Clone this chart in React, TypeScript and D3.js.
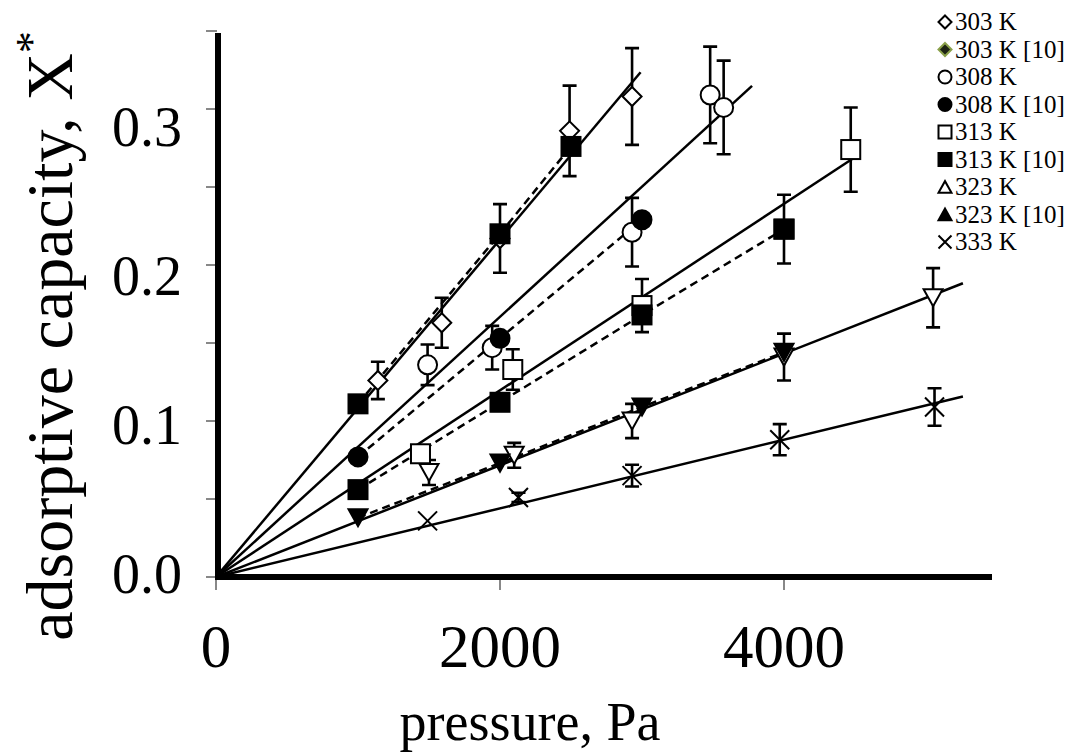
import React from 'react';
import * as d3 from 'd3';

// ---------- data ----------
const xTickValues = [0, 2000, 4000];
const yTickMarks = [0, 0.05, 0.1, 0.15, 0.2, 0.25, 0.3, 0.35];
const yTickLabels = [0.0, 0.1, 0.2, 0.3];

// 303 K (open diamond)
const p303 = [1140, 1590, 2000, 2490, 2930];
const x303 = [0.126, 0.163, 0.217, 0.286, 0.308];
const e303 = [0.012, 0.016, 0.022, 0.029, 0.031];
// 303 K [10] (drawn as filled squares in the plot)
const p303r = [1000, 2000, 2500];
const x303r = [0.111, 0.22, 0.276];
// 308 K (open circle)
const p308 = [1490, 1945, 2930, 3480, 3575];
const x308 = [0.136, 0.147, 0.221, 0.309, 0.301];
const e308 = [0.013, 0.014, 0.022, 0.031, 0.03];
// 308 K [10] (filled circle)
const p308r = [1000, 2000, 3000];
const x308r = [0.077, 0.153, 0.229];
// 313 K (open square)
const p313 = [1440, 2090, 3000, 4000, 4470];
const x313 = [0.079, 0.133, 0.174, 0.223, 0.274];
const e313 = [0.005, 0.013, 0.017, 0.022, 0.027];
// 313 K [10] (filled square)
const p313r = [1000, 2000, 3000, 4000];
const x313r = [0.056, 0.112, 0.168, 0.223];
// 323 K (open down-triangle)
const p323 = [1500, 2100, 2930, 4000, 5050];
const x323 = [0.067, 0.078, 0.1, 0.141, 0.179];
const e323 = [0.008, 0.008, 0.011, 0.015, 0.019];
// 323 K [10] (filled down-triangle)
const p323r = [1000, 2000, 3000, 4000];
const x323r = [0.038, 0.073, 0.109, 0.144];
// 333 K (cross)
const p333 = [1490, 2130, 2930, 3970, 5060];
const x333 = [0.036, 0.051, 0.065, 0.088, 0.109];
const e333 = [0, 0.003, 0.007, 0.01, 0.012];

// linear fits through origin
const fitSlopes = [1.082e-4, 8.34e-5, 5.98e-5, 3.58e-5, 2.2e-5];
const fitEnds = [2990, 3775, 4480, 5260, 5260];

const legendLabels = ['303 K', '303 K [10]', '308 K', '308 K [10]', '313 K', '313 K [10]', '323 K', '323 K [10]', '333 K'];
const legendShapes = ['diamond', 'diamondG', 'circle', 'circleF', 'square', 'squareF', 'triUp', 'triUpF', 'cross'];

// ---------- layout ----------
const W = 1077, H = 755;
const FONT = '"Liberation Serif", "Times New Roman", serif';

const x = d3.scaleLinear().domain([0, 5500]).range([216, 997]);
const y = d3.scaleLinear().domain([0, 0.35]).range([577, 31]);
const yLab = d3.scaleLinear().domain([0, 0.3]).range([574, 127]);

function Marker({ shape, cx, cy, s }: { shape: string; cx: number; cy: number; s: number }) {
  const sw = 2;
  const h = s / 2;
  switch (shape) {
    case 'square':
      return <rect x={cx - h} y={cy - h} width={s} height={s} fill="#fff" stroke="#000" strokeWidth={sw} />;
    case 'squareF':
      return <rect x={cx - h} y={cy - h} width={s} height={s} fill="#000" stroke="#000" strokeWidth={sw} />;
    case 'circle':
      return <circle cx={cx} cy={cy} r={h} fill="#fff" stroke="#000" strokeWidth={sw} />;
    case 'circleF':
      return <circle cx={cx} cy={cy} r={h} fill="#000" stroke="#000" strokeWidth={sw} />;
    case 'diamond':
      return <path d={`M${cx},${cy - h}L${cx + h},${cy}L${cx},${cy + h}L${cx - h},${cy}Z`} fill="#fff" stroke="#000" strokeWidth={sw} />;
    case 'diamondG':
      return <path d={`M${cx},${cy - h}L${cx + h},${cy}L${cx},${cy + h}L${cx - h},${cy}Z`} fill="#1e2414" stroke="#8aa04a" strokeWidth={sw} />;
    case 'triDown':
      return <path d={`M${cx - h},${cy - h * 0.9}L${cx + h},${cy - h * 0.9}L${cx},${cy + h * 0.9}Z`} fill="#fff" stroke="#000" strokeWidth={sw} />;
    case 'triDownF':
      return <path d={`M${cx - h},${cy - h * 0.9}L${cx + h},${cy - h * 0.9}L${cx},${cy + h * 0.9}Z`} fill="#000" stroke="#000" strokeWidth={sw} />;
    case 'triUp':
      return <path d={`M${cx - h},${cy + h * 0.9}L${cx + h},${cy + h * 0.9}L${cx},${cy - h * 0.9}Z`} fill="#fff" stroke="#000" strokeWidth={sw} />;
    case 'triUpF':
      return <path d={`M${cx - h},${cy + h * 0.9}L${cx + h},${cy + h * 0.9}L${cx},${cy - h * 0.9}Z`} fill="#000" stroke="#000" strokeWidth={sw} />;
    case 'cross':
      return <path d={`M${cx - h},${cy - h}L${cx + h},${cy + h}M${cx - h},${cy + h}L${cx + h},${cy - h}`} fill="none" stroke="#000" strokeWidth={sw} />;
  }
  return null;
}

function ErrorBars({ ps, xs, es }: { ps: number[]; xs: number[]; es: number[] }) {
  return (
    <g stroke="#000" strokeWidth={2.6} fill="none">
      {ps.map((p, i) => {
        if (!es[i]) return null;
        const cx = x(p), t = y(xs[i] + es[i]), b = y(xs[i] - es[i]);
        return <path key={i} d={`M${cx},${t}V${b}M${cx - 7},${t}H${cx + 7}M${cx - 7},${b}H${cx + 7}`} />;
      })}
    </g>
  );
}

function Points({ ps, xs, shape, s }: { ps: number[]; xs: number[]; shape: string; s: number }) {
  return (
    <g>
      {ps.map((p, i) => (
        <Marker key={i} shape={shape} cx={x(p)} cy={y(xs[i])} s={s} />
      ))}
    </g>
  );
}

const line = d3.line<[number, number]>().x(d => x(d[0])).y(d => y(d[1]));
const zip = (a: number[], b: number[]) => a.map((v, i) => [v, b[i]] as [number, number]);

export default function App() {
  return (
    <svg width={W} height={H} style={{ position: 'absolute', left: 0, top: 0, background: '#fff' }} fontFamily={FONT}>
      <rect width={W} height={H} fill="#fff" />
      {/* tick marks */}
      <g stroke="#888" strokeWidth={2}>
        {yTickMarks.map(v => (
          <line key={v} x1={206} x2={217} y1={y(v)} y2={y(v)} />
        ))}
        {xTickValues.map(v => (
          <line key={v} x1={x(v)} x2={x(v)} y1={577} y2={590} />
        ))}
      </g>
      {/* axes */}
      <line x1={218} x2={218} y1={33} y2={580} stroke="#000" strokeWidth={6} />
      <line x1={215} x2={992} y1={577} y2={577} stroke="#000" strokeWidth={6} />

      {/* tick labels */}
      {yTickLabels.map(v => (
        <text key={v} x={182} y={yLab(v) + 19} textAnchor="end" fontSize={56}>
          {v.toFixed(1)}
        </text>
      ))}
      {xTickValues.map(v => (
        <text key={v} x={x(v)} y={667} textAnchor="middle" fontSize={61}>
          {v}
        </text>
      ))}
      {/* axis titles */}
      <text x={530} y={740} textAnchor="middle" fontSize={54}>
        pressure, Pa
      </text>
      <text transform="translate(72,336) rotate(-90)" textAnchor="middle" fontSize={66}>
        adsorptive capacity, X<tspan fontSize={44} dy={-26}>*</tspan>
      </text>

      {/* fit lines */}
      <g stroke="#000" strokeWidth={2.5} fill="none">
        {fitSlopes.map((k, i) => (
          <path key={i} d={line([[0, 0], [fitEnds[i], k * fitEnds[i]]]) || ''} />
        ))}
      </g>
      {/* reference dashed lines */}
      <g stroke="#000" strokeWidth={2.5} fill="none" strokeDasharray="8,5">
        <path d={line(zip(p303r, x303r)) || ''} />
        <path d={line(zip(p308r, x308r)) || ''} />
        <path d={line(zip(p313r, x313r)) || ''} />
        <path d={line(zip(p323r, x323r)) || ''} />
      </g>

      {/* error bars */}
      <ErrorBars ps={p303} xs={x303} es={e303} />
      <ErrorBars ps={p308} xs={x308} es={e308} />
      <ErrorBars ps={p313} xs={x313} es={e313} />
      <ErrorBars ps={p323} xs={x323} es={e323} />
      <ErrorBars ps={p333} xs={x333} es={e333} />

      {/* open markers */}
      <Points ps={p303} xs={x303} shape="diamond" s={19} />
      <Points ps={p308} xs={x308} shape="circle" s={19} />
      <Points ps={p313} xs={x313} shape="square" s={19} />
      <Points ps={p323} xs={x323} shape="triDown" s={19} />
      <Points ps={p333} xs={x333} shape="cross" s={19} />
      {/* filled markers */}
      <Points ps={p303r} xs={x303r} shape="squareF" s={19} />
      <Points ps={p308r} xs={x308r} shape="circleF" s={19} />
      <Points ps={p313r} xs={x313r} shape="squareF" s={19} />
      <Points ps={p323r} xs={x323r} shape="triDownF" s={19} />

      {/* legend */}
      {legendLabels.map((lab, i) => {
        const cy = 22 + i * 27.5;
        return (
          <g key={lab}>
            <Marker shape={legendShapes[i]} cx={945} cy={cy} s={13} />
            <text x={955} y={cy + 8} fontSize={25}>
              {lab}
            </text>
          </g>
        );
      })}
    </svg>
  );
}
